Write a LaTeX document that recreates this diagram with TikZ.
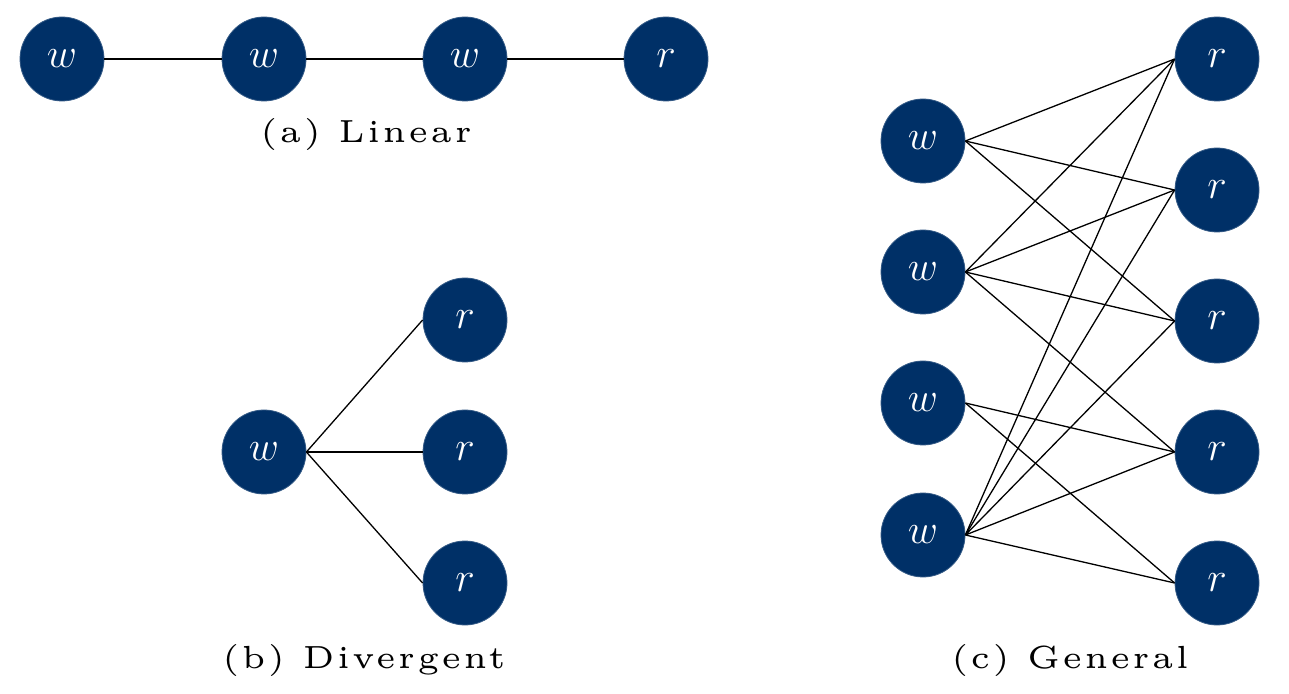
\documentclass[tikz,border=0pt]{standalone}
\usepackage{fontspec}
\newfontfamily\capfont{lmroman5-regular.otf}[LetterSpace=7]
\definecolor{nodeblue}{HTML}{003067}
\begin{document}
\begin{tikzpicture}[x=0.5pt,y=-0.5pt,
  vtx/.style={circle,fill=nodeblue,draw=nodeblue!80!white,line width=0.4pt,minimum size=42pt,inner sep=0pt,text=white,font=\fontsize{19.5}{22}\selectfont},
  edge/.style={line width=0.65pt,black},
  captext/.style={font=\fontsize{16}{19}\selectfont\capfont,inner sep=0pt}]
\useasboundingbox (0,0) rectangle (1289,694);
% (a) Linear
\node[vtx] (a1) at (62,59) {$w$};
\node[vtx] (a2) at (264,59) {$w$};
\node[vtx] (a3) at (465,59) {$w$};
\node[vtx] (a4) at (666,59) {$r$};
\draw[edge] (a1) -- (a2) (a2) -- (a3) (a3) -- (a4);
\node[captext] (ca) at (366,135) {(a) Linear};
% (b) Divergent
\node[vtx] (bw) at (264,452) {$w$};
\node[vtx] (br1) at (465,320) {$r$};
\node[vtx] (br2) at (465,452) {$r$};
\node[vtx] (br3) at (465,583) {$r$};
\draw[edge] (bw.east) -- (br1.west);
\draw[edge] (bw.east) -- (br2.west);
\draw[edge] (bw.east) -- (br3.west);
\node[captext] (cb) at (364,660) {(b) Divergent};
% (c) General
\node[vtx] (w1) at (923,141) {$w$};
\node[vtx] (w2) at (923,272) {$w$};
\node[vtx] (w3) at (923,403) {$w$};
\node[vtx] (w4) at (923,535) {$w$};
\node[vtx] (r1) at (1217,59) {$r$};
\node[vtx] (r2) at (1217,190) {$r$};
\node[vtx] (r3) at (1217,321) {$r$};
\node[vtx] (r4) at (1217,452) {$r$};
\node[vtx] (r5) at (1217,583) {$r$};
\foreach \a/\b in {w1/r1,w1/r2,w1/r3,w2/r1,w2/r2,w2/r3,w2/r4,w3/r4,w3/r5,w4/r1,w4/r2,w4/r3,w4/r4,w4/r5}
  \draw[edge] (\a.east) -- (\b.west);
\node[captext] (cc) at (1070,660) {(c) General};
\end{tikzpicture}
\end{document}
